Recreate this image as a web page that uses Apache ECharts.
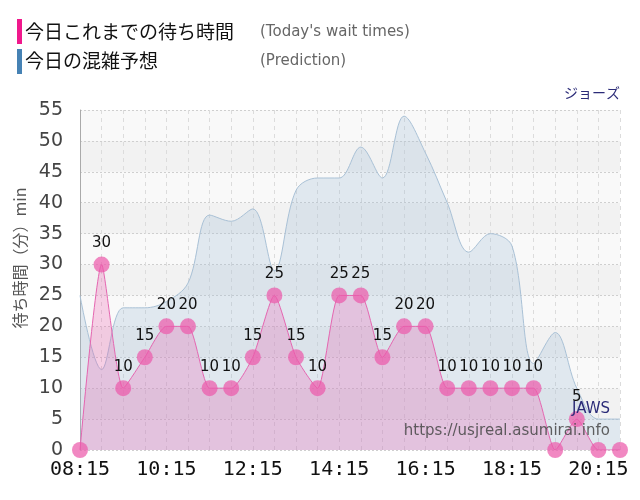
<!DOCTYPE html>
<html>
<head>
    <meta charset="utf-8">
    <title>ジョーズ 待ち時間</title>
    <script src="https://cdn.jsdelivr.net/npm/echarts@6/dist/echarts.min.js"></script>
    <style>
        html,body{
            height:100%;
            width:100%;
            margin:0;
            padding:0;
            background:#fff;
        }
        #chart{
            width:640px;
            height:500px;
        }
    </style>
</head>
<body>
<div id="chart"></div>
<script>
    /* data */
    // time slots (30 min)
    var times = ['08:15','08:45','09:15','09:45','10:15','10:45','11:15','11:45',
        '12:15','12:45','13:15','13:45','14:15','14:45','15:15','15:45',
        '16:15','16:45','17:15','17:45','18:15','18:45','19:15','19:45',
        '20:15','20:45'];
    // today's wait times
    var waitTimes = [0,30,10,15,20,20,10,10,15,25,15,10,25,25,15,20,20,10,10,10,10,10,0,5,0,0];
    // prediction
    var prediction = [25,13,23,23,24,27,38,37,39,29,42,44,44,49,44,54,48,40,32,35,33,14,19,10,5,5];
    // y ticks
    var yMin = 0, yMax = 55, yStep = 5;
    // texts
    var legendJa = ['今日これまでの待ち時間', '今日の混雑予想'];
    var legendEn = ["(Today's wait times)", '(Prediction)'];
    var attraction = 'ジョーズ';
    var attractionEn = 'JAWS';
    var siteUrl = 'https://usjreal.asumirai.info';
    var yName = '待ち時間（分）min';

    var jaFont = '"Noto Sans CJK JP", sans-serif';

    var myChart = echarts.init(document.getElementById('chart'));

    var option = {
        animation: false,
        grid: {
            left: 80,
            right: 20,
            top: 110,
            bottom: 50
        },
        xAxis: {
            type: 'category',
            data: times,
            boundaryGap: false,
            axisLine: { show: false },
            axisTick: { show: false },
            axisLabel: {
                interval: 3,
                fontSize: 20,
                fontFamily: '"DejaVu Sans Mono", monospace',
                color: '#111',
                margin: 10
            },
            splitLine: {
                show: true,
                interval: 0,
                lineStyle: { color: '#dcdcdc', type: [4, 4] }
            }
        },
        yAxis: {
            type: 'value',
            min: yMin,
            max: yMax,
            interval: yStep,
            axisLine: { show: true, lineStyle: { color: '#aaa' } },
            axisTick: { show: false },
            axisLabel: {
                fontSize: 19,
                fontFamily: '"DejaVu Sans", sans-serif',
                color: '#444',
                margin: 17
            },
            splitLine: {
                lineStyle: { color: '#cfcfcf', type: [2, 2] }
            },
            splitArea: {
                show: true,
                areaStyle: { color: ['#f9f9f9', '#f2f2f2'] }
            }
        },
        series: [
            {
                name: legendJa[1],
                type: 'line',
                data: prediction,
                smooth: 0.35,
                showSymbol: false,
                lineStyle: { color: '#a9c1d6', width: 1 },
                areaStyle: { color: 'rgba(160,190,215,0.4)' },
                z: 2
            },
            {
                name: legendJa[0],
                type: 'line',
                data: waitTimes,
                smooth: 0.2,
                symbol: 'circle',
                symbolSize: 16,
                showAllSymbol: true,
                itemStyle: { color: 'rgba(236,90,170,0.72)' },
                lineStyle: { color: '#e466b0', width: 1 },
                areaStyle: { color: 'rgba(240,80,170,0.35)' },
                label: {
                    show: true,
                    position: 'top',
                    distance: 6,
                    fontSize: 15,
                    fontFamily: '"DejaVu Sans", sans-serif',
                    color: '#111',
                    formatter: function (p) { return p.value > 0 ? p.value : ''; }
                },
                labelLayout: { hideOverlap: false },
                z: 3
            }
        ],
        graphic: [
            { type: 'rect', shape: { x: 17, y: 19, width: 5, height: 25 }, style: { fill: '#f0188c' } },
            { type: 'rect', shape: { x: 17, y: 49, width: 5, height: 25 }, style: { fill: '#4682b4' } },
            { type: 'text', x: 25, y: 32, style: { text: legendJa[0], font: '19px ' + jaFont, fill: '#111', verticalAlign: 'middle' } },
            { type: 'text', x: 25, y: 61, style: { text: legendJa[1], font: '19px ' + jaFont, fill: '#111', verticalAlign: 'middle' } },
            { type: 'text', x: 260, y: 32, style: { text: legendEn[0], font: '15px "DejaVu Sans", sans-serif', fill: '#666', verticalAlign: 'middle' } },
            { type: 'text', x: 260, y: 61, style: { text: legendEn[1], font: '15px "DejaVu Sans", sans-serif', fill: '#666', verticalAlign: 'middle' } },
            { type: 'text', x: 620, y: 93, style: { text: attraction, font: '14px ' + jaFont, fill: '#2b2b78', align: 'right', verticalAlign: 'middle' } },
            { type: 'text', x: 20, y: 258, rotation: Math.PI / 2, style: { text: yName, font: '16px ' + jaFont, fill: '#555', align: 'center', verticalAlign: 'middle' } },
            { type: 'text', x: 610, y: 409, z: 100, style: { text: attractionEn, font: '15px "DejaVu Sans", sans-serif', fill: '#2b2b78', align: 'right', verticalAlign: 'middle' } },
            { type: 'text', x: 610, y: 431, z: 100, style: { text: siteUrl, font: '15px "DejaVu Sans", sans-serif', fill: 'rgba(70,70,70,0.85)', align: 'right', verticalAlign: 'middle' } }
        ]
    };

    myChart.setOption(option);
</script>
</body>
</html>
